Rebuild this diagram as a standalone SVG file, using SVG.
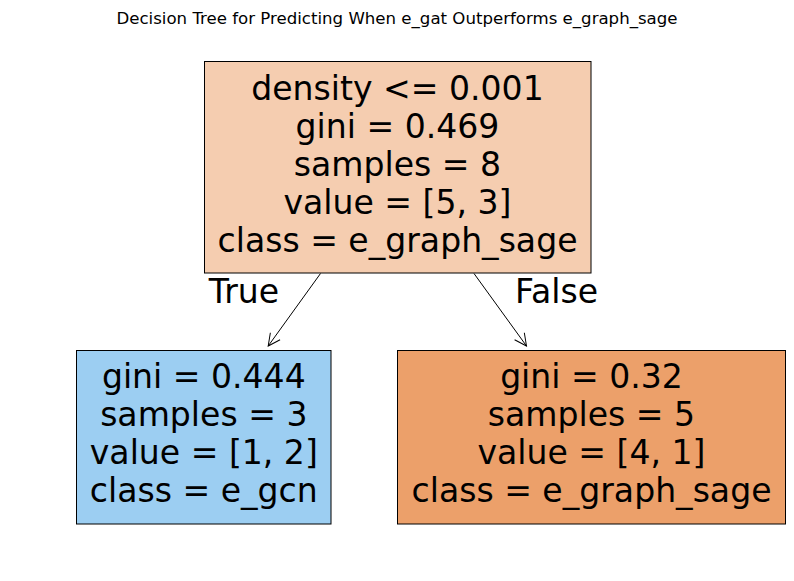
<svg xmlns="http://www.w3.org/2000/svg" width="794" height="581" viewBox="0 0 794 581">
<style>
.box{stroke:#000;stroke-width:1}
.t{font-family:"DejaVu Sans",sans-serif;font-size:33.1px;fill:#000;text-anchor:middle}
.title{font-family:"DejaVu Sans",sans-serif;font-size:16.6px;fill:#000;text-anchor:middle}
.edge{stroke:#000;stroke-width:1;fill:none}
</style>
<defs>
<marker id="arr" markerUnits="userSpaceOnUse" markerWidth="16" markerHeight="16" viewBox="-14 -8 16 16" refX="0" refY="0" orient="auto" overflow="visible">
<path d="M -12 -6 L 0 0 L -12 6" fill="none" stroke="#000" stroke-width="1"/>
</marker>
</defs>
<rect width="794" height="581" fill="#fff"/>
<text class="title" x="397" y="24">Decision Tree for Predicting When e_gat Outperforms e_graph_sage</text>
<g id="connectors">
<line class="edge" x1="320.5" y1="273.5" x2="268.2" y2="346" marker-end="url(#arr)"/>
<line class="edge" x1="474" y1="273.5" x2="526.5" y2="346" marker-end="url(#arr)"/>
<text class="t" x="244" y="302.5">True</text>
<text class="t" x="556.5" y="302.5">False</text>
</g>
<g id="node0">
<rect class="box" x="204.5" y="61.5" width="386.5" height="211.5" fill="#f5cdb0"/>
<text class="t" x="397.5" y="100">density &lt;= 0.001</text>
<text class="t" x="397.5" y="137.9">gini = 0.469</text>
<text class="t" x="397.5" y="175.8">samples = 8</text>
<text class="t" x="397.5" y="213.8">value = [5, 3]</text>
<text class="t" x="397.5" y="251.7">class = e_graph_sage</text>
</g>
<g id="node1">
<rect class="box" x="76.5" y="350.5" width="254.5" height="173.5" fill="#9ccef2"/>
<text class="t" x="203.8" y="388">gini = 0.444</text>
<text class="t" x="203.8" y="426">samples = 3</text>
<text class="t" x="203.8" y="464">value = [1, 2]</text>
<text class="t" x="203.8" y="502">class = e_gcn</text>
</g>
<g id="node2">
<rect class="box" x="397.5" y="350.5" width="388" height="173.5" fill="#eca06a"/>
<text class="t" x="591.5" y="388">gini = 0.32</text>
<text class="t" x="591.5" y="426">samples = 5</text>
<text class="t" x="591.5" y="464">value = [4, 1]</text>
<text class="t" x="591.5" y="502">class = e_graph_sage</text>
</g>
</svg>
